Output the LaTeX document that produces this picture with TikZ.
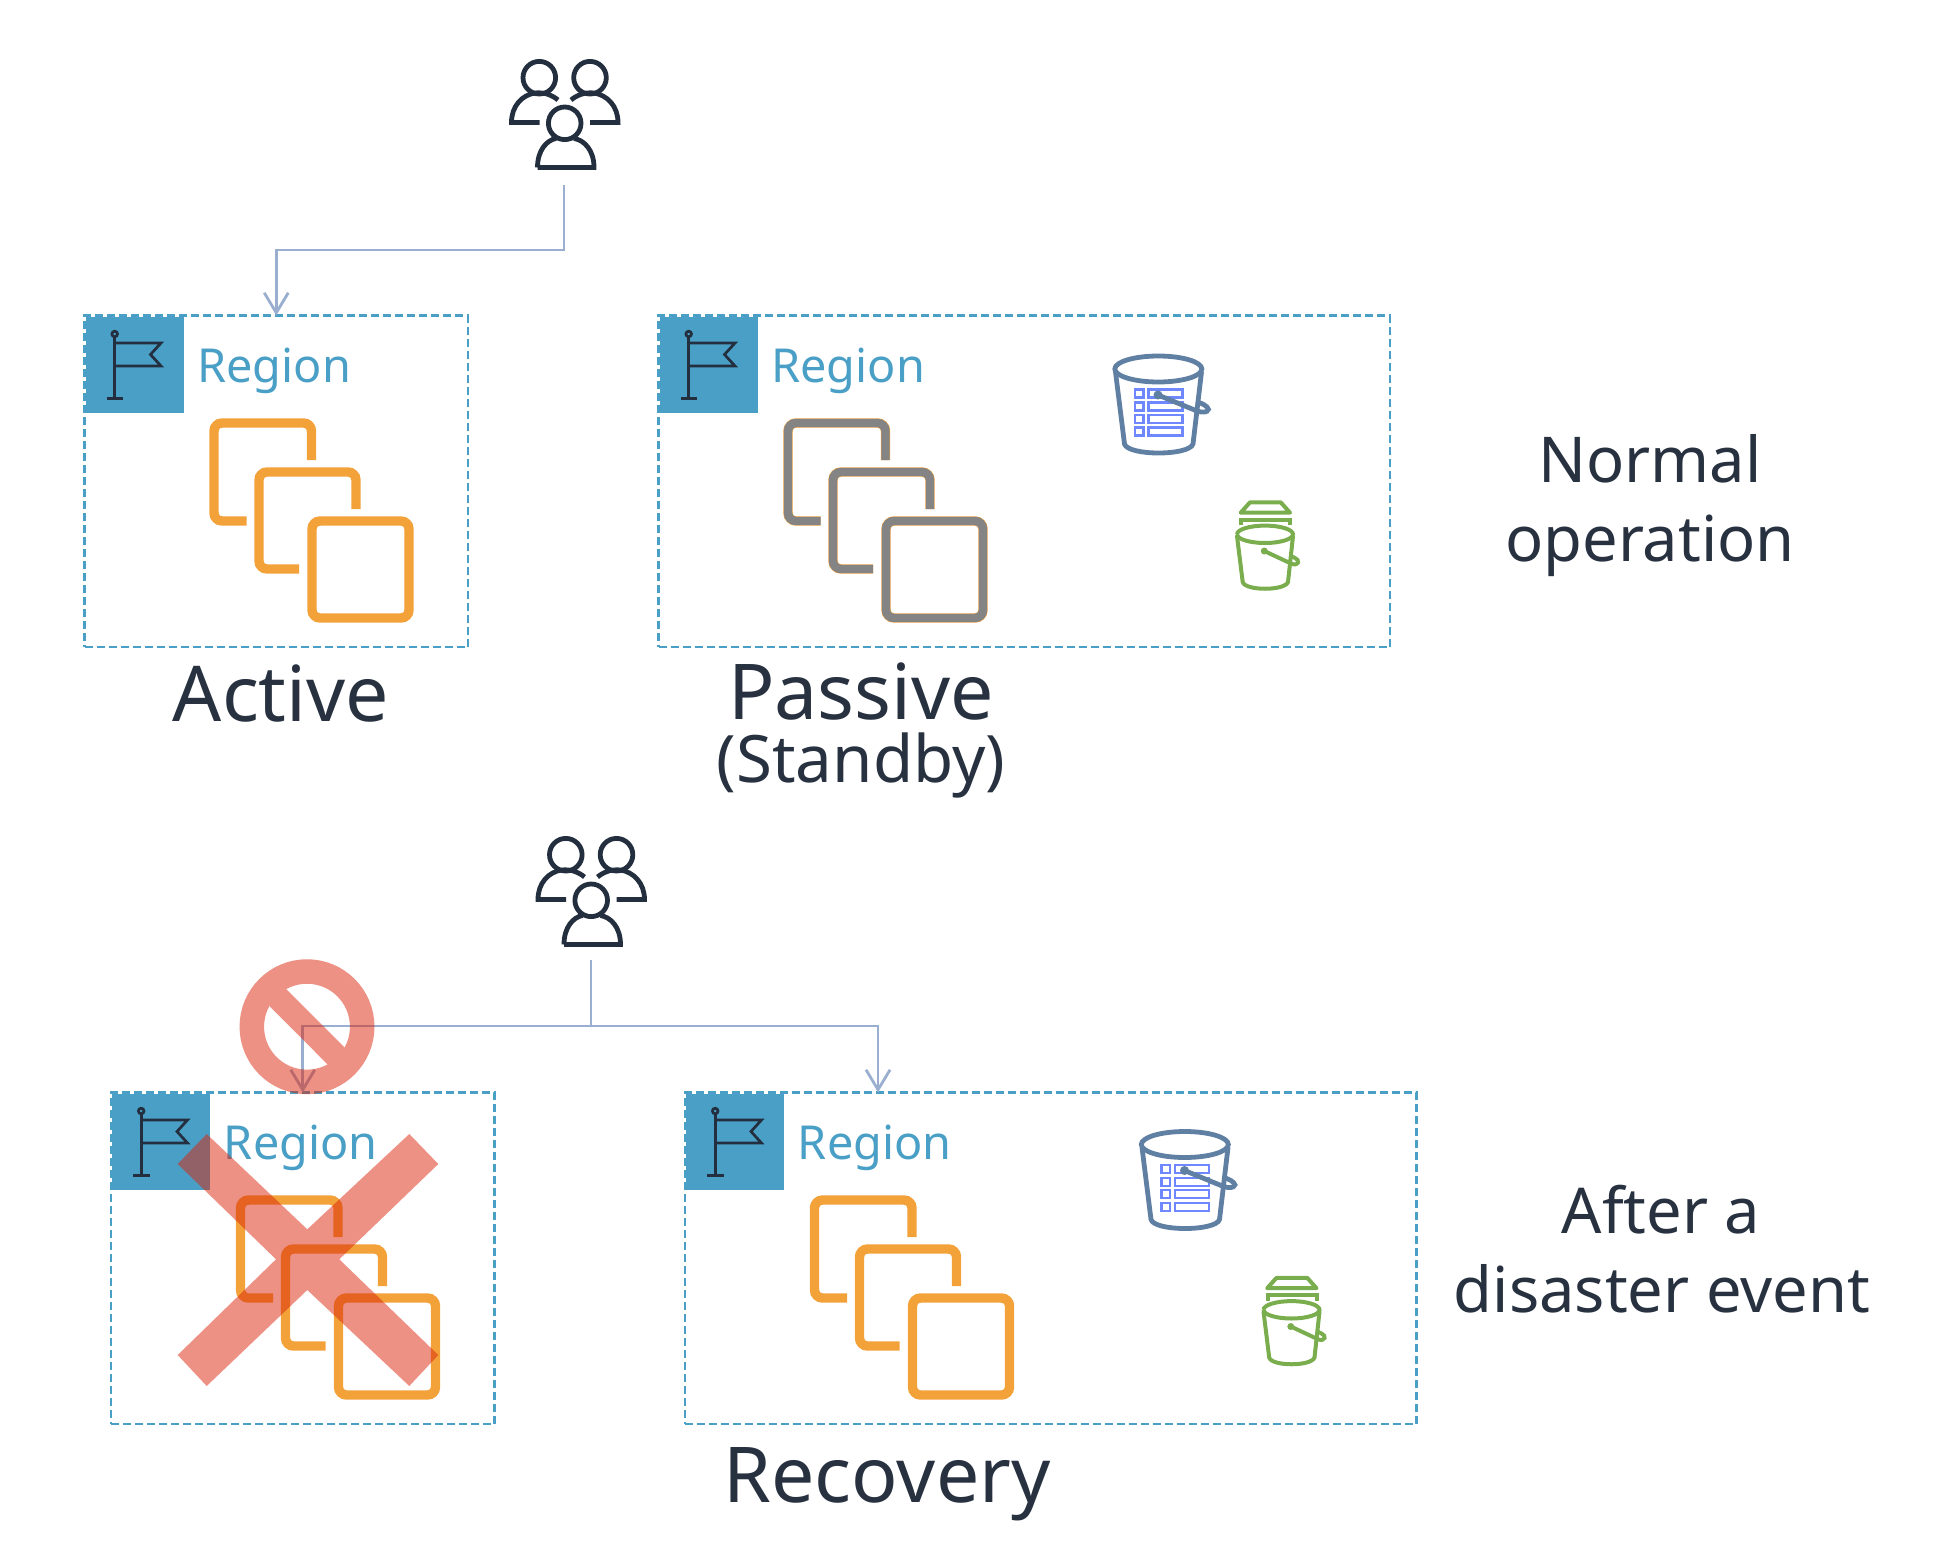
\documentclass[tikz,border=0pt]{standalone}
\usepackage{fontspec}
\setmainfont{Noto Sans}
\usetikzlibrary{arrows.meta}
\definecolor{regionblue}{HTML}{4A9FC6}
\definecolor{inkdark}{HTML}{232F3E}
\definecolor{labelink}{HTML}{27313F}
\definecolor{connblue}{HTML}{9AAED0}
\definecolor{orangebox}{HTML}{F3A23A}
\definecolor{greybox}{HTML}{848484}
\definecolor{bucketblue}{HTML}{5F7FA3}
\definecolor{tableblue}{HTML}{7088FF}
\definecolor{bucketgreen}{HTML}{7AAD4D}
\definecolor{stopred}{RGB}{218,35,10}
\tikzset{
  regionbox/.style={draw=regionblue,line width=1.4pt,dash pattern=on 4pt off 2pt,inner sep=0pt,outer sep=0pt},
  regiontext/.style={text=regionblue,font=\fontsize{23.4}{24}\selectfont,anchor=base west,inner sep=0pt},
  biglabel/.style={text=labelink,font=\fontsize{38.5}{38.5}\selectfont,anchor=base,inner sep=0pt},
  sidelabel/.style={text=labelink,font=\fontsize{31.6}{32}\selectfont,anchor=base,inner sep=0pt},
  subtlelabel/.style={text=labelink,font=\fontsize{32.7}{33}\selectfont,anchor=base,inner sep=0pt},
  conn/.style={draw=connblue,line width=1.4pt},
  connarrow/.style={conn,-{Straight Barb[length=10pt,width=12pt,line width=1.4pt]}},
  stack/.style={line width=4.7pt,rounded corners=4pt},
  usericon/.style={draw=inkdark,line width=2.4pt},
  flagline/.style={draw=inkdark,line width=1.35pt},
}
% region frame: #1 name, #2 origin, #3 width
\newcommand{\regionframe}[3]{%
  \begin{scope}[shift={(#2)}]
    \fill[regionblue] (1,1) rectangle (99,97.5);
    \node[regionbox,minimum width=#3*0.5pt,minimum height=165.75pt,anchor=north west] (#1) at (0,0) {};
    \draw[flagline] (30.2,21) -- (30.2,83) (22,83) -- (38.7,83);
    \draw[flagline] (30.2,18.5) circle[radius=2.8];
    \draw[flagline] (30.2,27.5) -- (76.5,27.5) -- (66,39) -- (76.5,50.5) -- (30.2,50.5);
    \node[regiontext] (#1t) at (112.5,66.5) {Region};
  \end{scope}}
% three stacked squares: #1 origin, #2 colour, #3 line width
\newcommand{\stackicon}[3]{%
  \begin{scope}[shift={(#1)},draw=#2,stack,line width=#3]
    \draw (227,144.5) -- (227,107.5) -- (129.5,107.5) -- (129.5,205.5) -- (162,205.5);
    \draw (271.5,193.5) -- (271.5,156.5) -- (174.5,156.5) -- (174.5,253.5) -- (214.5,253.5);
    \draw (227.5,205.5) rectangle (324.5,302.5);
  \end{scope}}
% three users: #1 origin
\newcommand{\usersicon}[1]{%
  \begin{scope}[shift={(#1)},usericon]
    \draw (539.3,77.7) circle[radius=16.3];
    \draw (590,77.7) circle[radius=16.3];
    \draw (564.7,123.3) circle[radius=16.3];
    \draw (539.5,122.5) -- (511.5,122.5) .. controls (511.5,106) and (522,95) .. (535,93) .. controls (544,92) and (552,95) .. (558,100);
    \draw (590,122.5) -- (618,122.5) .. controls (618,106) and (607,95) .. (594,93) .. controls (585,92) and (577,95) .. (571,100);
    \draw (537.5,167.5) -- (594,167.5) .. controls (594,150) and (584,140) .. (574,138.5) (537.5,167.5) .. controls (537.5,150) and (547,140) .. (556,138.5);
  \end{scope}}
% buckets: #1 origin
\newcommand{\bucketsicon}[1]{%
  \begin{scope}[shift={(#1)}]
    \begin{scope}[draw=tableblue,line width=1.2pt]
      \foreach \yy in {389.3,402.3,414.7,427.3}{
        \draw (1135,\yy) rectangle (1143.3,\yy+8);
        \draw (1148.3,\yy) rectangle (1182.3,\yy+8);
      }
    \end{scope}
    \begin{scope}[draw=bucketblue,line width=2.4pt]
      \draw (1158.3,369) ellipse[x radius=43.5,y radius=13];
      \draw (1115.5,372) -- (1124.5,444) .. controls (1128,456) and (1189,456) .. (1193,444) -- (1201.5,372);
      \draw (1158,395) -- (1197,411) .. controls (1206,414) and (1211,410) .. (1207,407) .. controls (1204,404) and (1198,402) .. (1196,402);
    \end{scope}
    \fill[bucketblue] (1158,395) circle[radius=4.5];
    \begin{scope}[draw=bucketgreen,line width=2pt]
      \draw (1237,534.3) arc[start angle=180,end angle=-180,x radius=28,y radius=8.7];
      \draw (1237,536) -- (1242.7,582) .. controls (1245,591) and (1285,591) .. (1288,582) -- (1293,536);
      \draw (1264.3,551) -- (1292,564) .. controls (1299,566) and (1300,560) .. (1295,558) -- (1291,556);
      \draw[line join=round] (1240.7,512.7) -- (1250,502.3) -- (1280.7,502.3) -- (1290,512.7) -- cycle;
      \draw (1241,525) -- (1241,519.5) -- (1290,519.5) -- (1290,525);
    \end{scope}
    \fill[bucketgreen] (1264.3,551) circle[radius=3.5];
  \end{scope}}
\begin{document}
\begin{tikzpicture}[x=0.5pt,y=-0.5pt]
\useasboundingbox (0,0) rectangle (1948,1552);
% top row
\usersicon{0,0}
\coordinate (u1) at (564,185);
\coordinate (m1) at (276.25,250);
\regionframe{ra}{84.5,315.5}{383.5}
\stackicon{84.5,315.5}{orangebox}{4.7pt}
\regionframe{rb}{658.5,315.5}{731.5}
\stackicon{658.5,315.5}{orangebox}{4.7pt}
\stackicon{658.5,315.5}{greybox}{4.2pt}
\bucketsicon{0,0}
\draw[connarrow] (u1) |- (m1) -- (ra.north);
% bottom row
\usersicon{26.5,777}
\coordinate (u2) at (591,960);
\coordinate (j2) at (591,1026);
\coordinate (m2) at (878,1026);
\coordinate (e2) at (878,1092.5);
\regionframe{rc}{111,1092.5}{383.5}
\stackicon{111,1092.5}{orangebox}{4.7pt}
\regionframe{rd}{685,1092.5}{731.5}
\stackicon{685,1092.5}{orangebox}{4.7pt}
\bucketsicon{26.5,775.5}
\draw[conn] (u2) -- (j2);
\draw[connarrow] (j2) -| (rc.north);
\draw[connarrow] (j2) -- (m2) -- (e2);
% stop sign and cross
\begin{scope}[transparency group,opacity=.5]
  \draw[stopred,line width=12.25pt] (307,1026.7) circle[radius=55.2];
  \draw[stopred,line width=12pt] (267.8,987.5) -- (346.2,1066);
\end{scope}
\fill[stopred,opacity=.5] (177.7,1164) -- (206.7,1134) -- (307.3,1229.3) -- (409.3,1134) -- (438.3,1164) -- (339.3,1259.3) -- (438.3,1355) -- (409.3,1386) -- (307.3,1290) -- (206.7,1386) -- (177.7,1355) -- (276,1259.3) -- cycle;
% labels
\node[biglabel] (l1) at (281,721) {Active};
\node[biglabel] (l2) at (861,719) {Passive};
\node[subtlelabel] (l3) at (861,782) {(Standby)};
\node[sidelabel] (l4) at (1650,482) {Normal};
\node[sidelabel] (l5) at (1650,561) {operation};
\node[biglabel] (l6) at (887,1502) {Recovery};
\node[sidelabel] (l7) at (1661,1233) {After a};
\node[sidelabel] (l8) at (1662,1312) {disaster event};
\end{tikzpicture}
\end{document}
